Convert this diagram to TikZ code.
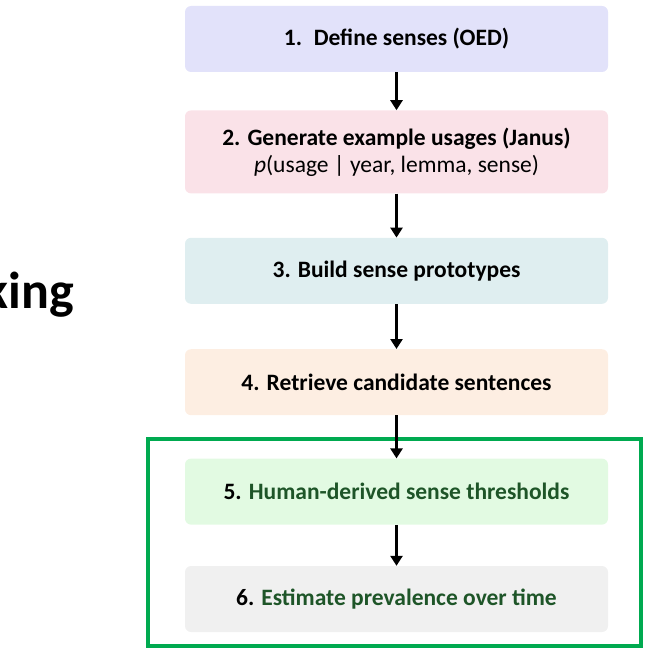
\documentclass[tikz,border=0pt]{standalone}
\usepackage{fontspec}
\setmainfont{Carlito}
\usetikzlibrary{positioning,arrows.meta}
\definecolor{stepA}{RGB}{226,226,250}
\definecolor{stepB}{RGB}{250,226,232}
\definecolor{stepC}{RGB}{223,238,240}
\definecolor{stepD}{RGB}{253,238,226}
\definecolor{stepE}{RGB}{226,250,226}
\definecolor{stepF}{RGB}{240,240,240}
\definecolor{darkgreen}{RGB}{30,85,40}
\definecolor{framegreen}{RGB}{0,170,80}
\tikzset{
  stage/.style={rectangle, rounded corners=6pt, minimum width=423pt, minimum height=66pt,
    align=center, font=\fontsize{23.5}{27}\selectfont},
  flow/.style={-{Triangle[length=10pt,width=12pt]}, line width=2.8pt},
}
\begin{document}
\begin{tikzpicture}[x=1pt,y=-1pt, node distance=40pt]
  \useasboundingbox (0,0) rectangle (655,655);
  \node (define)   [stage, fill=stepA] at (396.5,39) {\textbf{1.\enspace Define senses (OED)}};
  \node (generate) [stage, fill=stepB, minimum height=83pt, below=38pt of define]
        {\textbf{2. Generate example usages (Janus)}\\ \textit{p}(usage | year, lemma, sense)};
  \node (proto)    [stage, fill=stepC, below=44pt of generate] {\textbf{3. Build sense prototypes}};
  \node (retrieve) [stage, fill=stepD, below=45pt of proto] {\textbf{4. Retrieve candidate sentences}};
  \node (thresh)   [stage, fill=stepE, below=43pt of retrieve] {\textbf{5. \color{darkgreen}Human-derived sense thresholds}};
  \node (prev)     [stage, fill=stepF, below=41pt of thresh] {\textbf{6. \color{darkgreen}Estimate prevalence over time}};
  \node (king) [anchor=east, font=\fontsize{52}{52}\selectfont\bfseries, inner sep=0pt] at (74,295) {king};

  \draw[framegreen, line width=4.5pt] (148,439) rectangle (641,646);

  \draw[flow] (define)   -- (generate);
  \draw[flow] (generate) -- (proto);
  \draw[flow] (proto)    -- (retrieve);
  \draw[flow] (retrieve) -- (thresh);
  \draw[flow] (thresh)   -- (prev);
\end{tikzpicture}
\end{document}
